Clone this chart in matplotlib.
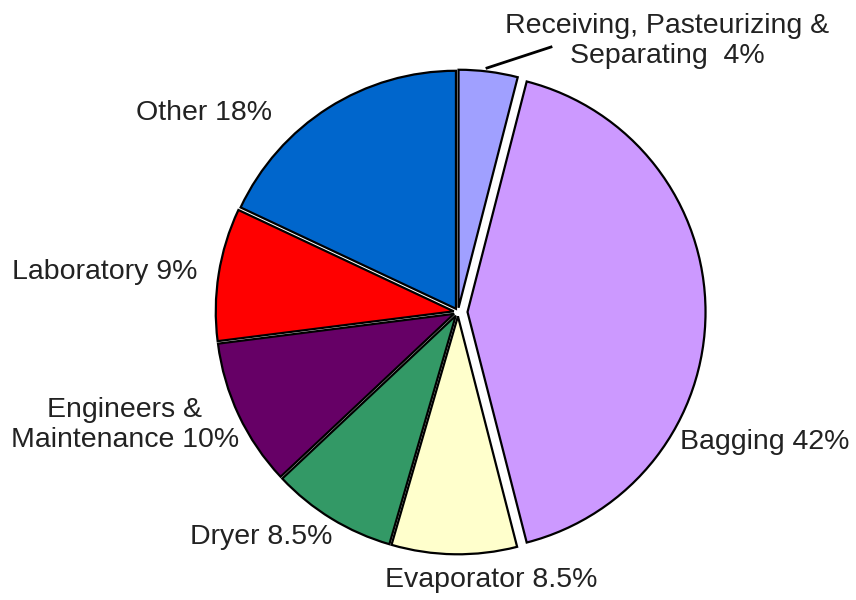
import matplotlib.pyplot as plt

# Share of labour by department
departments = ["Receiving, Pasteurizing &\nSeparating  4%", "Bagging 42%", "Evaporator 8.5%",
               "Dryer 8.5%", "Engineers &\nMaintenance 10%", "Laboratory 9%", "Other 18%"]
shares = [4, 42, 8.5, 8.5, 10, 9, 18]
colors = ["#A0A0FF", "#CC99FF", "#FFFFCC", "#339966", "#660066", "#FF0000", "#0066CC"]
explode_frac = [0.018, 0.04, 0.018, 0.018, 0.018, 0.018, 0.016]

# label anchor points (pixel layout, y measured from the top)
label_pos = [(667, 41), (765, 442), (491, 580), (261, 537), (125, 425), (105, 272), (204, 113)]

plt.rcParams["font.family"] = ["Liberation Sans", "DejaVu Sans"]

radius = 238
fig = plt.figure(figsize=(8.56, 6), dpi=100)
ax = fig.add_axes([0, 0, 1, 1])

# pie() takes explode as an absolute offset, so scale it by the radius
# y axis points down, so counterclock in data space runs clockwise on screen
ax.pie(shares, colors=colors, explode=[e * radius for e in explode_frac],
       center=(458, 312), radius=radius, startangle=-90, counterclock=True, frame=True,
       wedgeprops=dict(edgecolor="black", linewidth=1.6))
ax.set_xlim(0, 856)
ax.set_ylim(600, 0)
ax.set_aspect("equal")
ax.axis("off")

for name, (x, y) in zip(departments, label_pos):
    ax.text(x, y, name, ha="center", va="center", fontsize=20.5,
            color="#222222", linespacing=1.2)

# leader line for the smallest slice
ax.plot([487, 551], [68, 47], color="black", linewidth=2)

fig.savefig("out.png", dpi=100)
